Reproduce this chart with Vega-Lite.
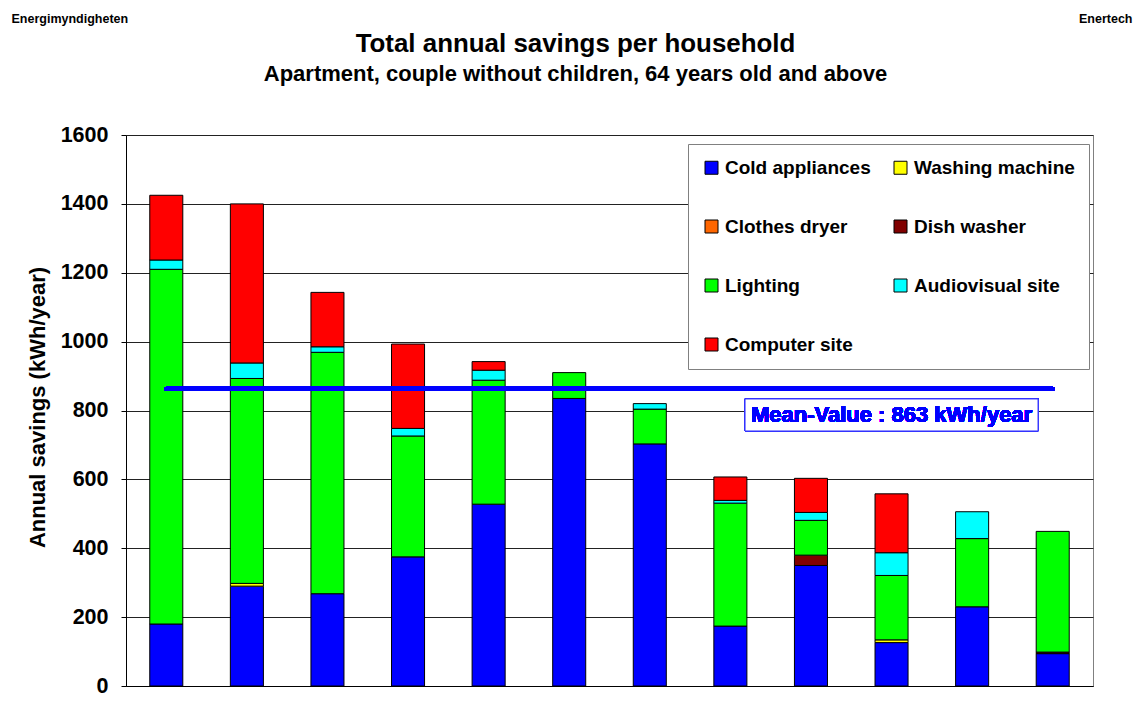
{
  "$schema": "https://vega.github.io/schema/vega-lite/v6.json",
  "autosize": "none",
  "width": 967,
  "height": 551,
  "padding": {"left": 126, "top": 135, "right": 50, "bottom": 27},
  "background": "white",
  "config": {
    "font": "Liberation Sans",
    "view": {"stroke": "#808080", "strokeWidth": 1}
  },
  "title": {
    "text": "Total annual savings per household",
    "subtitle": "Apartment, couple without children, 64 years old and above",
    "anchor": "middle",
    "frame": "group",
    "dx": -34,
    "offset": -74,
    "fontSize": 25.9,
    "fontWeight": "bold",
    "color": "black",
    "subtitleFontSize": 22,
    "subtitleFontWeight": "bold",
    "subtitleColor": "black",
    "subtitlePadding": 6
  },
  "data": {
    "values": [
      {"hh": "H01", "cat": "Cold appliances", "kwh": 180},
      {"hh": "H01", "cat": "Lighting", "kwh": 1030},
      {"hh": "H01", "cat": "Audiovisual site", "kwh": 27},
      {"hh": "H01", "cat": "Computer site", "kwh": 188},
      {"hh": "H02", "cat": "Cold appliances", "kwh": 290},
      {"hh": "H02", "cat": "Washing machine", "kwh": 8},
      {"hh": "H02", "cat": "Lighting", "kwh": 595},
      {"hh": "H02", "cat": "Audiovisual site", "kwh": 45},
      {"hh": "H02", "cat": "Computer site", "kwh": 462},
      {"hh": "H03", "cat": "Cold appliances", "kwh": 268},
      {"hh": "H03", "cat": "Lighting", "kwh": 701},
      {"hh": "H03", "cat": "Audiovisual site", "kwh": 16},
      {"hh": "H03", "cat": "Computer site", "kwh": 158},
      {"hh": "H04", "cat": "Cold appliances", "kwh": 375},
      {"hh": "H04", "cat": "Lighting", "kwh": 351},
      {"hh": "H04", "cat": "Audiovisual site", "kwh": 22},
      {"hh": "H04", "cat": "Computer site", "kwh": 245},
      {"hh": "H05", "cat": "Cold appliances", "kwh": 528},
      {"hh": "H05", "cat": "Lighting", "kwh": 360},
      {"hh": "H05", "cat": "Audiovisual site", "kwh": 29},
      {"hh": "H05", "cat": "Computer site", "kwh": 25},
      {"hh": "H06", "cat": "Cold appliances", "kwh": 835},
      {"hh": "H06", "cat": "Lighting", "kwh": 75},
      {"hh": "H07", "cat": "Cold appliances", "kwh": 703},
      {"hh": "H07", "cat": "Lighting", "kwh": 101},
      {"hh": "H07", "cat": "Audiovisual site", "kwh": 16},
      {"hh": "H08", "cat": "Cold appliances", "kwh": 174},
      {"hh": "H08", "cat": "Lighting", "kwh": 357},
      {"hh": "H08", "cat": "Audiovisual site", "kwh": 8},
      {"hh": "H08", "cat": "Computer site", "kwh": 68},
      {"hh": "H09", "cat": "Cold appliances", "kwh": 350},
      {"hh": "H09", "cat": "Dish washer", "kwh": 30},
      {"hh": "H09", "cat": "Lighting", "kwh": 101},
      {"hh": "H09", "cat": "Audiovisual site", "kwh": 23},
      {"hh": "H09", "cat": "Computer site", "kwh": 99},
      {"hh": "H10", "cat": "Cold appliances", "kwh": 126},
      {"hh": "H10", "cat": "Washing machine", "kwh": 8},
      {"hh": "H10", "cat": "Lighting", "kwh": 187},
      {"hh": "H10", "cat": "Audiovisual site", "kwh": 66},
      {"hh": "H10", "cat": "Computer site", "kwh": 171},
      {"hh": "H11", "cat": "Cold appliances", "kwh": 230},
      {"hh": "H11", "cat": "Lighting", "kwh": 198},
      {"hh": "H11", "cat": "Audiovisual site", "kwh": 78},
      {"hh": "H12", "cat": "Cold appliances", "kwh": 94},
      {"hh": "H12", "cat": "Lighting", "kwh": 351},
      {"hh": "H12", "cat": "Dish washer", "kwh": 4}
    ]
  },
  "resolve": {"axis": {"x": "independent", "y": "independent"}},
  "layer": [
    {
      "transform": [
        {"calculate": "indexof(['Cold appliances', 'Washing machine', 'Clothes dryer', 'Dish washer', 'Lighting', 'Audiovisual site', 'Computer site'], datum.cat)", "as": "stackRank"}
      ],
      "mark": {"type": "bar", "stroke": "black", "strokeWidth": 1},
      "encoding": {
        "x": {
          "field": "hh",
          "type": "nominal",
          "scale": {"paddingInner": 0.59, "paddingOuter": 0.295},
          "axis": {"labels": false, "ticks": false, "domain": true, "domainColor": "black", "domainWidth": 1, "title": null, "grid": false}
        },
        "y": {
          "field": "kwh",
          "type": "quantitative",
          "stack": "zero",
          "scale": {"domain": [0, 1600], "nice": false, "zero": true},
          "axis": {
            "values": [0, 200, 400, 600, 800, 1000, 1200, 1400, 1600],
            "format": "d",
            "grid": true,
            "gridColor": "#222222",
            "gridWidth": 1,
            "domainColor": "black",
            "tickColor": "black",
            "tickSize": 5,
            "labelPadding": 13,
            "labelFontSize": 21.5,
            "labelFontWeight": "bold",
            "labelColor": "black",
            "title": "Annual savings (kWh/year)",
            "titleFontSize": 22,
            "titleFontWeight": "bold",
            "titleColor": "black",
            "titleX": -89,
            "titleY": 272,
            "titleAngle": -90,
            "titleAlign": "center",
            "titleBaseline": "middle"
          }
        },
        "order": {"field": "stackRank", "type": "quantitative", "sort": "ascending"},
        "color": {
          "field": "cat",
          "type": "nominal",
          "scale": {
            "domain": ["Cold appliances", "Washing machine", "Clothes dryer", "Dish washer", "Lighting", "Audiovisual site", "Computer site"],
            "range": ["#0000FF", "#FFFF00", "#FF6600", "#800000", "#00FF00", "#00FFFF", "#FF0000"]
          },
          "legend": {
            "orient": "none",
            "legendX": 562,
            "legendY": 9,
            "direction": "horizontal",
            "title": null,
            "columns": 2,
            "columnPadding": 20,
            "rowPadding": 39,
            "symbolType": "square",
            "symbolSize": 169,
            "symbolStrokeColor": "black",
            "symbolStrokeWidth": 1,
            "symbolOpacity": 1,
            "labelFontSize": 19,
            "labelFontWeight": "bold",
            "labelColor": "black",
            "labelOffset": 4,
            "labelLimit": 300,
            "fillColor": "white",
            "strokeColor": "#808080",
            "padding": 14
          }
        }
      }
    },
    {
      "mark": {"type": "rule", "color": "#0000FF", "strokeWidth": 4, "strokeCap": "round"},
      "encoding": {
        "x": {
          "datum": "H01",
          "type": "nominal",
          "axis": {"orient": "top", "labels": false, "ticks": false, "domain": false, "grid": false,
                   "title": "Energimyndigheten", "titleX": -115, "titleY": -117, "titleAlign": "left",
                   "titleBaseline": "middle", "titleFontSize": 12.5, "titleFontWeight": "bold", "titleColor": "black"}
        },
        "x2": {"datum": "H12"},
        "y": {"datum": 863, "type": "quantitative", "axis": null}
      }
    },
    {
      "mark": {"type": "rect", "width": 293, "height": 32, "fill": "white", "stroke": "#3333FF", "strokeWidth": 1},
      "encoding": {
        "x": {"datum": "H10", "type": "nominal", "axis": null},
        "y": {
          "datum": 787,
          "type": "quantitative",
          "axis": {"orient": "right", "labels": false, "ticks": false, "domain": false, "grid": false,
                   "title": "Enertech", "titleAngle": 0, "titleX": 39, "titleY": -117, "titleAlign": "right",
                   "titleBaseline": "middle", "titleFontSize": 12.5, "titleFontWeight": "bold", "titleColor": "black"}
        }
      }
    },
    {
      "mark": {"type": "text", "text": "Mean-Value : 863 kWh/year", "fontSize": 22, "fontWeight": "bold", "fill": "#0000FF", "align": "center", "baseline": "middle"},
      "encoding": {
        "x": {"datum": "H10", "type": "nominal", "axis": null},
        "y": {"datum": 787, "type": "quantitative", "axis": null}
      }
    }
  ]
}
